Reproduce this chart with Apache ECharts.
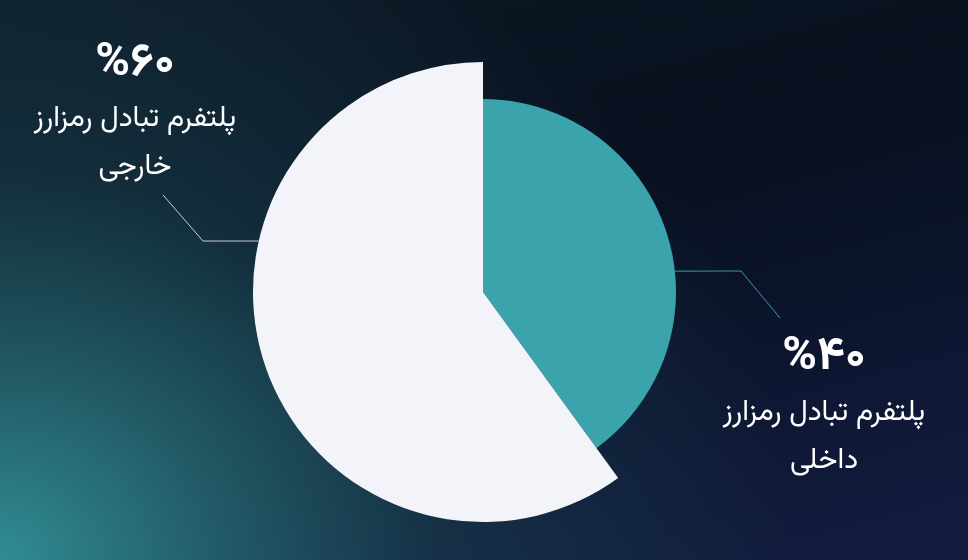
<!DOCTYPE html>
<html>
<head>
<meta charset="utf-8">
<script src="https://cdn.jsdelivr.net/npm/echarts@6/dist/echarts.min.js"></script>
<style>
html,body{margin:0;padding:0;width:968px;height:560px;overflow:hidden;}
#chart{width:968px;height:560px;
background:
 radial-gradient(ellipse 800px 700px at 0% 100%, rgba(49,140,146,1) 0%, rgba(40,112,120,0.75) 28%, rgba(28,72,86,0.5) 55%, rgba(15,30,45,0) 100%),
 linear-gradient(165deg, #0d1a25 0%, #080f1e 40%, #0e1733 75%, #131d40 100%);}
</style>
</head>
<body>
<div id="chart"></div>
<script>
// Data
const names = ['پلتفرم تبادل رمزارز داخلی', 'پلتفرم تبادل رمزارز خارجی'];
const nameLine1 = ['پلتفرم تبادل رمزارز', 'پلتفرم تبادل رمزارز'];
const nameLine2 = ['داخلی', 'خارجی'];
const values = [40, 60];
const colors = ['#3ba3ab', '#f3f4f9'];
const lineColors = ['#3a9aa2', '#c9ced8'];

function toFa(n){ return String(n).replace(/\d/g, d => '۰۱۲۳۴۵۶۷۸۹'[d]); }

const CX = 483, CY = 292;
const radii = [193, 230];
// label line start angles (degrees, math convention) and label anchor layout
const lineAngle = [6.2, 167.2];
const elbow = [[741, 271], [203, 241]];
const lineEnd = [[780, 318], [163, 195]];
const labelPos = [[824, 332], [135, 38]];

const font = "Vazirmatn, 'Noto Sans Arabic', 'DejaVu Sans', sans-serif";

function makeSeries(idx){
  const data = values.map((v, i) => {
    const visible = i === idx;
    return {
      name: names[i],
      value: v,
      itemStyle: { color: visible ? colors[i] : 'rgba(0,0,0,0)' },
      label: { show: visible },
      labelLine: { show: visible }
    };
  });
  return {
    type: 'pie',
    center: [CX, CY],
    radius: [0, radii[idx]],
    startAngle: 90,
    clockwise: true,
    silent: true,
    animation: false,
    avoidLabelOverlap: false,
    itemStyle: { borderWidth: 0 },
    label: {
      color: '#ffffff',
      fontFamily: font,
      formatter: (p) => '{p|%' + toFa(p.value) + '}\n{n|' + nameLine1[p.dataIndex] + '}\n{n|' + nameLine2[p.dataIndex] + '}',
      rich: {
        p: { fontSize: 47, fontWeight: 'bold', lineHeight: 59, color: '#ffffff', fontFamily: font, align: 'center' },
        n: { fontSize: 29, lineHeight: 48, color: '#ffffff', fontFamily: font, align: 'center' }
      }
    },
    labelLine: { show: true, lineStyle: { color: lineColors[idx], width: 1 } },
    labelLayout: function(params){
      if (params.dataIndex !== idx) return {};
      const a = lineAngle[idx] * Math.PI / 180;
      const sx = CX + radii[idx] * Math.cos(a);
      const sy = CY - radii[idx] * Math.sin(a);
      return {
        x: labelPos[idx][0],
        y: labelPos[idx][1],
        align: 'center',
        verticalAlign: 'top',
        labelLinePoints: [[sx, sy], elbow[idx], lineEnd[idx]]
      };
    },
    emphasis: { disabled: true },
    data: data
  };
}

const chart = echarts.init(document.getElementById('chart'), null, { renderer: 'canvas' });
chart.setOption({
  backgroundColor: 'transparent',
  animation: false,
  series: [makeSeries(0), makeSeries(1)]
});
</script>
</body>
</html>
